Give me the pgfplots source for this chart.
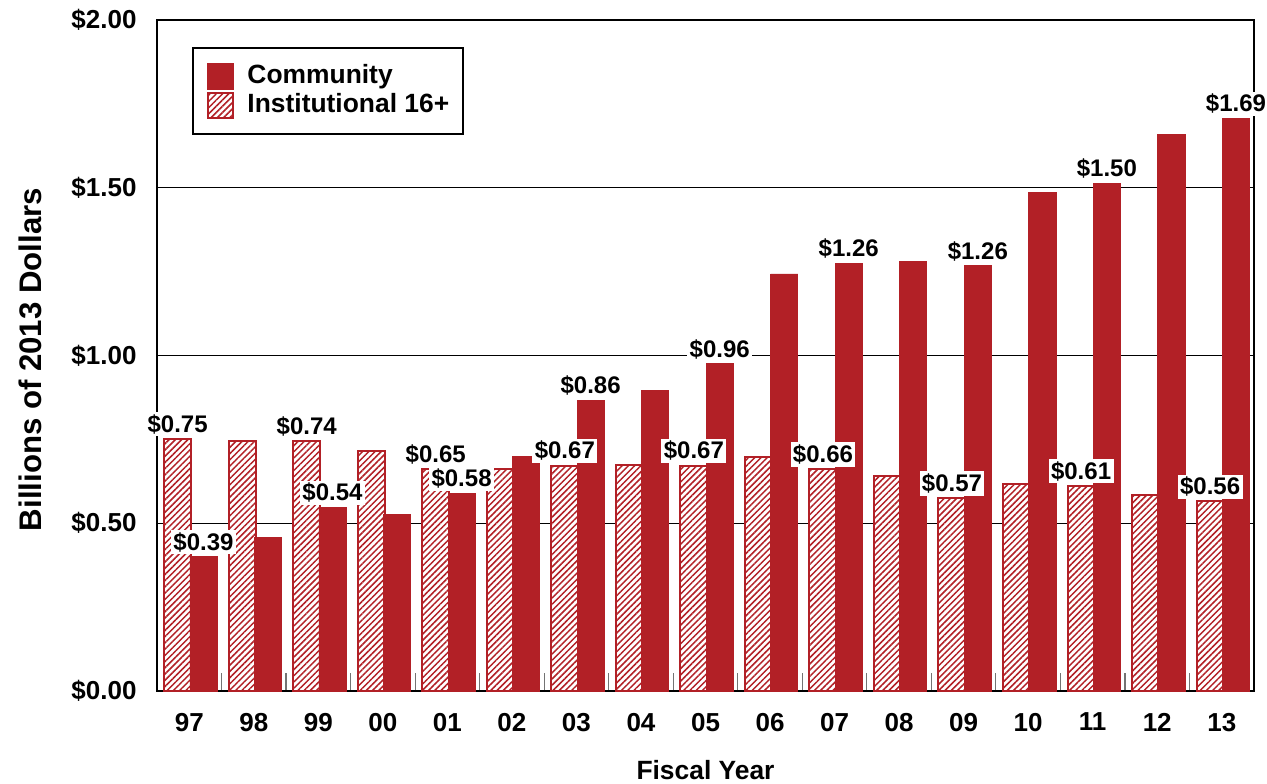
\documentclass[border=0pt]{standalone}
\usepackage{pgfplots}
\pgfplotsset{compat=1.18}
\usepackage{fontspec}
\setmainfont{Liberation Sans}
\usetikzlibrary{patterns,patterns.meta}
\definecolor{barred}{RGB}{178,32,38}

\begin{document}
\begin{tikzpicture}
\begin{axis}[
  ybar, bar width=0.42,
  scale only axis, width=548.5pt, height=335.5pt,
  xmin=-0.5, xmax=16.5, ymin=0, ymax=2,
  axis line style={line width=1.3pt},
  xtick={0,...,16},
  xticklabels={97,98,99,00,01,02,03,04,05,06,07,08,09,10,11,12,13},
  ytick={0,0.5,1,1.5,2},
  yticklabels={\$0.00,\$0.50,\$1.00,\$1.50,\$2.00},
  major tick length=0pt,
  minor xtick={0.5,1.5,...,15.5},
  minor tick length=9pt,
  tick align=inside,
  xtick pos=bottom, ytick pos=left,
  minor tick style={black!55, line width=0.6pt},
  ymajorgrids, major grid style={black, line width=0.5pt},
  tick label style={font=\bfseries\fontsize{13}{15}\selectfont},
  xticklabel style={yshift=-7.5pt},
  yticklabel style={xshift=-6.7pt},
  xlabel={Fiscal Year},
  ylabel={Billions of 2013 Dollars},
  every axis x label/.style={at={(rel axis cs:0.5,0)}, yshift=-39.5pt, anchor=center, font=\bfseries\fontsize{13.2}{15}\selectfont},
  every axis y label/.style={at={(rel axis cs:0,0.5)}, xshift=-63.5pt, yshift=-2pt, rotate=90, anchor=center, font=\bfseries\fontsize{15.6}{18}\selectfont},
  legend cell align=left,
  legend style={at={(rel axis cs:0.032,0.96)}, anchor=north west, draw=black, line width=1pt,
    font=\bfseries\fontsize{13.2}{15}\selectfont, inner xsep=7pt, inner ysep=7pt, row sep=0pt,
    nodes={inner xsep=0pt, inner ysep=1.25pt, text height=9.5pt, text depth=2.5pt},
    /tikz/every odd column/.append style={column sep=7pt}},
  legend image code/.code={\draw[#1, line width=0.8pt] (0pt,-6.2pt) rectangle (12.4pt,6.2pt);},
  hatched/.style={draw=barred, line width=1pt, fill=white, postaction={pattern={Lines[angle=45,distance=2.2pt,line width=0.75pt]}, pattern color=barred}},
  solidbar/.style={draw=barred, line width=0.4pt, fill=barred},
  labelnode/.style={draw=none, fill=none, nodes near coords, point meta=explicit symbolic,
    every node near coord/.append style={fill=white, text=black, inner sep=1.2pt, yshift=1pt, font=\bfseries\fontsize{12}{14}\selectfont}},
]
% Institutional 16+ (hatched)
\addplot[hatched, bar shift=-0.18, forget plot] coordinates {
 (0,0.752) (1,0.745) (2,0.745) (3,0.715) (4,0.662) (5,0.662) (6,0.672) (7,0.675) (8,0.672)
 (9,0.697) (10,0.662) (11,0.640) (12,0.575) (13,0.617) (14,0.612) (15,0.585) (16,0.565)};
% Community (solid)
\addplot[solidbar, bar shift=0.22] coordinates {
 (0,0.40) (1,0.458) (2,0.547) (3,0.527) (4,0.589) (5,0.698) (6,0.867) (7,0.895) (8,0.975)
 (9,1.243) (10,1.274) (11,1.280) (12,1.268) (13,1.487) (14,1.513) (15,1.658) (16,1.707)};
\addlegendentry{Community}
\addlegendimage{hatched}
\addlegendentry{Institutional 16+}
% value labels
\addplot[labelnode, bar shift=-0.18, forget plot] coordinates {
 (0,0.752) [\$0.75] (2,0.745) [\$0.74] (4,0.662) [\$0.65] (6,0.672) [\$0.67] (8,0.672) [\$0.67]
 (10,0.662) [\$0.66] (12,0.575) [\$0.57] (14,0.612) [\$0.61] (16,0.565) [\$0.56]};
\addplot[labelnode, bar shift=0.22, forget plot] coordinates {
 (0,0.40) [\$0.39] (2,0.547) [\$0.54] (4,0.589) [\$0.58] (6,0.867) [\$0.86] (8,0.975) [\$0.96]
 (10,1.274) [\$1.26] (12,1.268) [\$1.26] (14,1.513) [\$1.50] (16,1.707) [\$1.69]};
\end{axis}
\pgfresetboundingbox
\path[use as bounding box] ([xshift=-78.5pt,yshift=-46pt]current axis.south west) rectangle ([xshift=6.5pt,yshift=10pt]current axis.north east);
\end{tikzpicture}
\end{document}
